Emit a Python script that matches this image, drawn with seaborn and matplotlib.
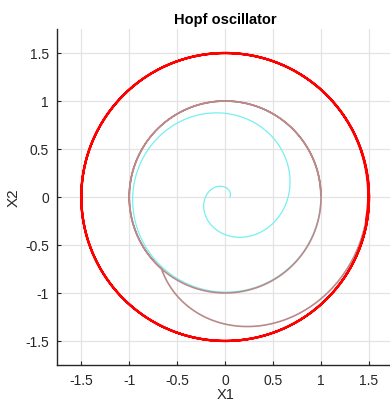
import numpy as np
import pandas as pd
import matplotlib
matplotlib.use("Agg")
import matplotlib.pyplot as plt
import seaborn as sns

# Hopf oscillator: dx1 = (mu - r^2) x1 - omega x2,  dx2 = (mu - r^2) x2 + omega x1
omega = 2.2
mu_before = 1.0          # limit cycle radius 1
mu_after = 2.25          # limit cycle radius 1.5
x_start = [0.05, 0.0]
t_switch = 10.38         # time at which mu is raised
t_cyan_end = 5.72        # end of the transient spiral segment
t_brown_end = 11.35      # end of the transition segment
t_final = 20.0
dt = 0.002

tick_values = [-1.5, -1, -0.5, 0, 0.5, 1, 1.5]
tick_labels = ["-1.5", "-1", "-0.5", "0", "0.5", "1", "1.5"]


def hopf(state, mu):
    x1, x2 = state
    r2 = x1 * x1 + x2 * x2
    return np.array([(mu - r2) * x1 - omega * x2, (mu - r2) * x2 + omega * x1])


def simulate():
    n = int(round(t_final / dt))
    t = np.arange(n + 1) * dt
    out = np.zeros((n + 1, 2))
    s = np.array(x_start, dtype=float)
    out[0] = s
    for i in range(n):
        mu = mu_before if t[i] < t_switch else mu_after
        k1 = hopf(s, mu)
        k2 = hopf(s + 0.5 * dt * k1, mu)
        k3 = hopf(s + 0.5 * dt * k2, mu)
        k4 = hopf(s + dt * k3, mu)
        s = s + dt / 6.0 * (k1 + 2 * k2 + 2 * k3 + k4)
        out[i + 1] = s
    return pd.DataFrame({"t": t, "x1": out[:, 0], "x2": out[:, 1]})


traj = simulate()
seg_cyan = traj[traj.t <= t_cyan_end]
seg_brown = traj[(traj.t >= t_cyan_end) & (traj.t <= t_brown_end)]
seg_red = traj[traj.t >= t_brown_end]

sns.set_theme(style="whitegrid")
plt.rcParams["font.family"] = ["Liberation Sans", "DejaVu Sans"]

fig = plt.figure(figsize=(3.90, 4.02), dpi=100)
ax = fig.add_axes([0.1469, 0.0896, 0.8608, 0.8358])

sns.lineplot(data=seg_cyan, x="x1", y="x2", sort=False, estimator=None,
             color="#76F0F0", linewidth=0.9, ax=ax)
sns.lineplot(data=seg_brown, x="x1", y="x2", sort=False, estimator=None,
             color="#BA8989", linewidth=1.2, ax=ax)
sns.lineplot(data=seg_red, x="x1", y="x2", sort=False, estimator=None,
             color="#FF0000", linewidth=1.6, ax=ax)

ax.set_xlim(-1.75, 1.75)
ax.set_ylim(-1.75, 1.75)
ax.set_xticks(tick_values)
ax.set_xticklabels(tick_labels)
ax.set_yticks(tick_values)
ax.set_yticklabels(tick_labels)

ax.set_facecolor("white")
ax.grid(True, color="#e3e3e3", linewidth=0.9)
for side in ("top", "right"):
    ax.spines[side].set_visible(False)
for side in ("left", "bottom"):
    ax.spines[side].set_visible(True)
    ax.spines[side].set_color("#262626")
    ax.spines[side].set_linewidth(1.0)
ax.tick_params(direction="in", length=3, width=0.8, color="#262626",
               labelsize=10, labelcolor="#262626", pad=6,
               left=True, bottom=True)

ax.set_xlabel("X1", fontsize=10.5, color="#262626", labelpad=0)
ax.set_ylabel("X2", fontsize=11, color="#262626", labelpad=3)
ax.set_title("Hopf oscillator", fontsize=10.5, fontweight="bold", color="black", pad=4)

fig.savefig("out.png", dpi=100, facecolor="white")
